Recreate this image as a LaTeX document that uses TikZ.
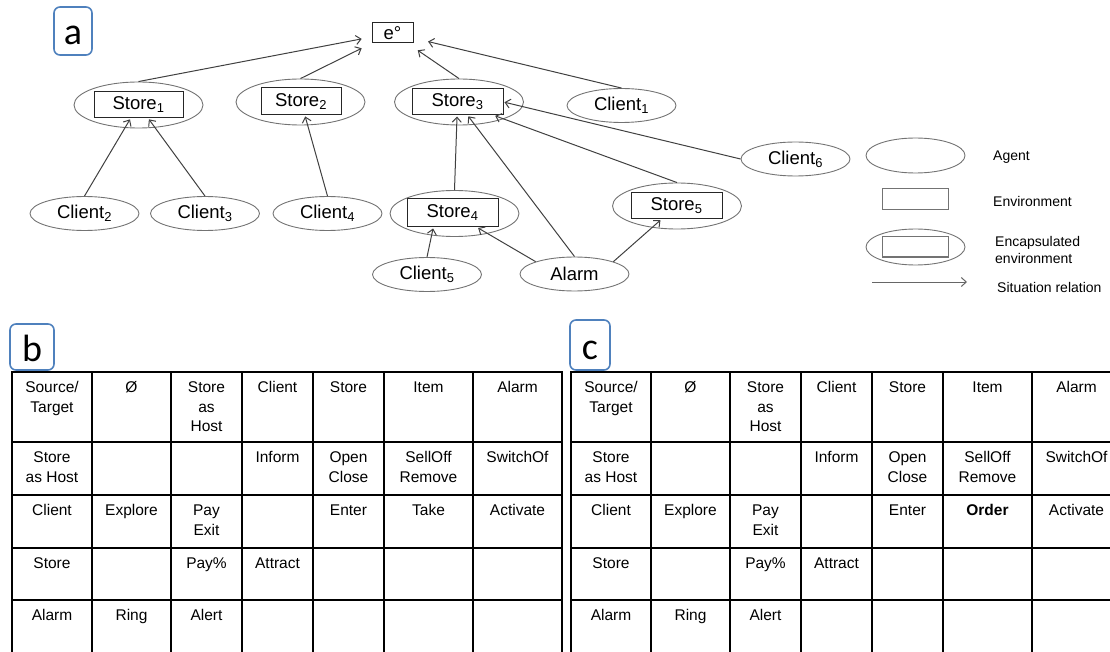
\documentclass[tikz,border=0pt]{standalone}
\usepackage{fontspec}
\setmainfont{Liberation Sans}
\newfontfamily\tagfont{Carlito}
\usetikzlibrary{shapes.geometric,arrows.meta}
\definecolor{tagblue}{HTML}{4F81BD}
\tikzset{
  agent/.style={ellipse, draw=black!55, line width=0.9pt, inner sep=0pt, minimum width=109pt, minimum height=34pt, font=\fontsize{18.5}{21}\selectfont},
  encap/.style={ellipse, draw=black!55, line width=0.9pt, minimum width=129pt, minimum height=46pt},
  env/.style={draw=black!85, line width=1pt, inner sep=0pt, minimum width=91pt, minimum height=26pt, font=\fontsize{18.5}{21}\selectfont},
  rel/.style={draw=black!75, line width=1pt, -{Straight Barb[length=5pt,width=9pt]}, shorten >=1pt},
  tag/.style={draw=tagblue, line width=1.6pt, rounded corners=6pt, inner sep=0pt, minimum width=40pt, minimum height=48pt, text height=28pt, text depth=0pt, font=\tagfont\fontsize{38}{40}\selectfont},
  cell/.style={anchor=base, inner sep=0pt, font=\fontsize{15.5}{19.5}\selectfont},
  tabline/.style={line width=1.8pt, line cap=rect},
  legtext/.style={anchor=west, align=left, inner sep=0pt, font=\fontsize{14}{17}\selectfont},
}
\newcommand\relmatrix[3]{%
\begin{scope}[xshift=#2]
\foreach \tx in {12,92,171,242,313,384,473,562}
  \draw[tabline] (\tx,372) -- (\tx,660);
\foreach \ty in {372,442,495,548,600}
  \draw[tabline] (12,\ty) -- (562,\ty);
\foreach \nm/\cx/\cy/\ct in {11/52/392.5/{Source/\\Target}, 21/131.5/392.5/{Ø}, 31/206.5/392.5/{Store\\as\\Host},
    41/277.5/392.5/Client, 51/348.5/392.5/Store, 61/428.5/392.5/Item, 71/517.5/392.5/Alarm,
    12/52/462.5/{Store\\as Host}, 42/277.5/462.5/Inform, 52/348.5/462.5/{Open\\Close},
    62/428.5/462.5/{SellOff\\Remove}, 72/517.5/462.5/SwitchOf,
    13/52/515.5/Client, 23/131.5/515.5/Explore, 33/206.5/515.5/{Pay\\Exit}, 53/348.5/515.5/Enter,
    63/428.5/515.5/{#3}, 73/517.5/515.5/Activate,
    14/52/568.5/Store, 34/206.5/568.5/{Pay\%}, 44/277.5/568.5/Attract,
    15/52/620.5/Alarm, 25/131.5/620.5/Ring, 35/206.5/620.5/Alert}
  \node[cell] (#1\nm) at (\cx,\cy){\begin{tabular}[t]{@{}c@{}}\ct\end{tabular}};
\end{scope}}

\begin{document}
\begin{tikzpicture}[x=1pt,y=-1pt]
\path[use as bounding box, clip] (0,0) rectangle (1110,652);
\node[tag, minimum width=38pt] (taga) at (73,31){a};
\node[tag, minimum width=44pt, minimum height=46pt] (tagb) at (32,347){b};
\node[tag, minimum height=50pt] (tagc) at (590,345){c};

\node[env, minimum width=41pt, minimum height=20pt] (eo) at (392.5,33){e°};
\node[encap] (st1) at (138.5,105){};
\node[encap] (st2) at (300.5,102){};
\node[encap] (st3) at (459,102){};
\node[encap] (st4) at (454.5,213.5){};
\node[encap] (st5) at (677,206){};
\node[env, minimum width=89pt] (st1r) at (138.5,105){Store\textsubscript{1}};
\node[env, minimum width=80pt, minimum height=27pt] (st2r) at (301,101.5){Store\textsubscript{2}};
\node[env] (st3r) at (457.5,102){Store\textsubscript{3}};
\node[env, minimum height=28pt] (st4r) at (452.5,213){Store\textsubscript{4}};
\node[env] (st5r) at (676.5,206){Store\textsubscript{5}};
\node[agent] (cl1) at (621.5,105.5){Client\textsubscript{1}};
\node[agent] (cl2) at (84.5,213.5){Client\textsubscript{2}};
\node[agent] (cl3) at (205,213.5){Client\textsubscript{3}};
\node[agent] (cl4) at (327.5,213.5){Client\textsubscript{4}};
\node[agent] (cl5) at (427,274.5){Client\textsubscript{5}};
\node[agent] (cl6) at (795.5,159){Client\textsubscript{6}};
\node[agent] (al) at (574.5,274){Alarm};

\draw[rel, shorten >=10pt](st1.north) -- (eo);
\draw[rel, shorten >=11pt](st2.north) -- (eo);
\draw[rel, shorten >=12pt](st3.north) -- (eo);
\draw[rel, shorten >=15pt](cl1.north) -- (eo);
\draw[rel](cl2.north) -- (st1r);
\draw[rel](cl3.north) -- (st1r);
\draw[rel](cl4.north) -- (st2r);
\draw[rel](st4.north) -- (st3r);
\draw[rel](al.north) -- (st3r);
\draw[rel](st5.north) -- (st3r);
\draw[rel](cl6.west) -- (st3r.east);
\draw[rel](cl5.north) -- (st4r.-143);
\draw[rel](al.north west) -- (st4r);
\draw[rel](al.north east) -- (st5r);

\node[agent, minimum width=99pt, minimum height=35pt] (lgag) at (915.5,155.5){};
\node[env, draw=black!55, minimum width=66pt, minimum height=21pt] (lgenv) at (915,199.5){};
\node[encap, minimum width=99pt, minimum height=36pt] (lgenc) at (915.5,247){};
\node[env, draw=black!55, minimum width=66pt, minimum height=20pt] (lgencr) at (915,247){};
\coordinate (lgs) at (872,282);
\coordinate (lge) at (968,282);
\draw[rel, draw=black!60](lgs) -- (lge);
\node[legtext] (lgagt) at (993,157.5){Agent};
\node[legtext] (lgenvt) at (993,201){Environment};
\node[legtext] (lgenct) at (995,249.5){Encapsulated\\environment};
\node[legtext] (lgrelt) at (997,287){Situation relation};

\relmatrix{b}{0pt}{Take}
\relmatrix{c}{559pt}{\textbf{Order}}
\end{tikzpicture}
\end{document}
